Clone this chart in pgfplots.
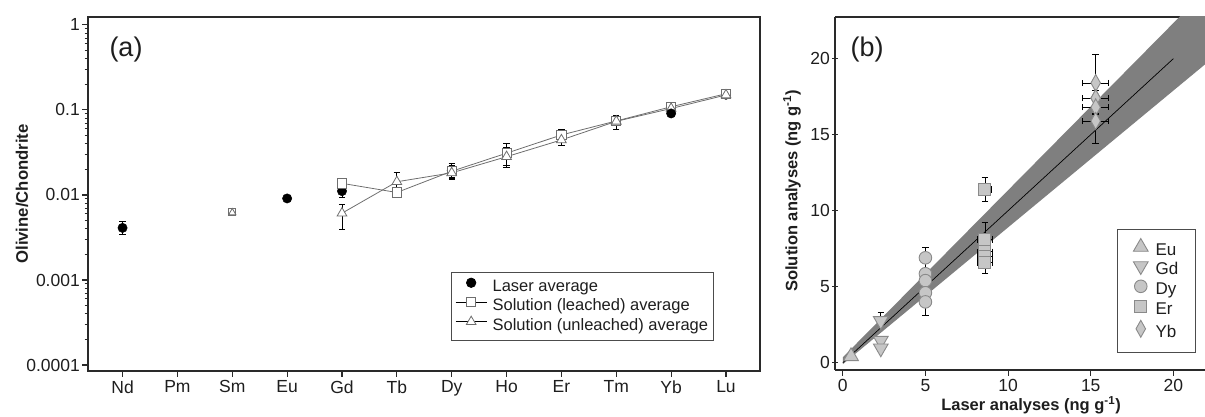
\documentclass[border=0pt]{standalone}
\usepackage{fontspec}
\setmainfont{Liberation Sans}
\usepackage{pgfplots}
\pgfplotsset{compat=1.18}
\definecolor{mk}{HTML}{C6C6C6}
\definecolor{mkd}{HTML}{8A8A8A}
\definecolor{band}{HTML}{7F7F7F}
\definecolor{frame}{HTML}{2A2A2A}
\definecolor{ln}{HTML}{6E6E6E}
\definecolor{txt}{HTML}{1E1E1E}
\pgfplotsset{
  limgline/.style={legend image code/.code={\draw[##1, black] (0pt,4pt) -- (31pt,4pt); \draw[##1] plot coordinates {(15.5pt,4pt)};}},
  limgmark/.style={legend image code/.code={\draw[##1] plot coordinates {(15.5pt,4pt)};}},
  limgmarkb/.style={legend image code/.code={\draw[##1] plot coordinates {(0pt,4.5pt)};}},
  common/.style={
    scale only axis,
    tick align=outside,
    major tick length=6pt, minor tick length=3.5pt,
    axis line style={frame, line width=1.4pt},
    tick style={frame, line width=1.1pt},
    xtick pos=left, ytick pos=left,
    ticklabel style={font=\fontsize{17.5}{20}\selectfont, text=txt},
    /pgf/number format/assume math mode=true,
    error bars/error bar style={black, solid, line width=0.8pt},
    error bars/error mark options={rotate=90, mark size=3.2pt, line width=0.8pt, black, solid},
  }
}
\begin{document}
\begin{tikzpicture}
\useasboundingbox (0pt,0pt) rectangle (1205pt,417pt);
% ---------------- panel (a) ----------------
\begin{axis}[common,
  at={(88pt,46pt)}, anchor=south west, width=672pt, height=354pt,
  xmin=-0.63, xmax=11.62, ymode=log, ymin=8.5e-5, ymax=1.24,
  xtick={0,...,11}, xticklabels={Nd,Pm,Sm,Eu,Gd,Tb,Dy,Ho,Er,Tm,Yb,Lu},
  ytick={0.0001,0.001,0.01,0.1,1}, yticklabels={0.0001,0.001,0.01,0.1,1},
  minor ytick={2e-4,3e-4,4e-4,5e-4,6e-4,7e-4,8e-4,9e-4,2e-3,3e-3,4e-3,5e-3,6e-3,7e-3,8e-3,9e-3,0.02,0.03,0.04,0.05,0.06,0.07,0.08,0.09,0.2,0.3,0.4,0.5,0.6,0.7,0.8,0.9},
  yticklabel style={inner sep=2pt},
  legend style={at={(0.540,0.085)}, anchor=south west, draw=black!70, line width=0.8pt,
     font=\fontsize{16.5}{19}\selectfont, text=txt, inner xsep=4pt, inner ysep=5pt,
     nodes={inner sep=1.5pt, text height=12.5pt, text depth=4pt}, column sep=4pt, row sep=0pt},
  legend cell align=left,
]
\addplot[only marks, mark=*, mark size=4.7pt, black, limgmark,
  error bars/.cd, y dir=both, y explicit]
  coordinates {(0,0.0041) += (0,0.0008) -= (0,0.0007)
               (4,0.0111) += (0,0.0019) -= (0,0.0018)
               (6,0.0195) +- (0,0.004)
               (11,0.151) +- (0,0.01)};
\addlegendentry{Laser average}
\addplot[ln, line width=0.8pt, mark=square*, mark size=4.6pt, mark options={fill=white, draw=ln, line width=0.8pt}, limgline,
  error bars/.cd, y dir=both, y explicit]
  coordinates {(4,0.0137) +- (0,0.0006) (5,0.0107) +- (0,0.0008) (6,0.0190) +- (0,0.003)
    (7,0.031) += (0,0.0096) -= (0,0.009) (8,0.0508) += (0,0.009) -= (0,0.006)
    (9,0.0742) += (0,0.013) -= (0,0.008) (10,0.109) += (0,0.008) -= (0,0.006)
    (11,0.155) += (0,0.015) -= (0,0.012)};
\addlegendentry{Solution (leached) average}
\addplot[ln, line width=0.8pt, mark=triangle*, mark size=5.6pt, mark options={fill=white, draw=ln, line width=0.8pt}, limgline,
  error bars/.cd, y dir=both, y explicit]
  coordinates {(4,0.0061) += (0,0.0017) -= (0,0.0022) (5,0.0143) += (0,0.004) -= (0,0.002)
    (6,0.0182) +- (0,0.003) (7,0.0282) += (0,0.008) -= (0,0.007)
    (8,0.0444) += (0,0.005) -= (0,0.006) (9,0.0735) += (0,0.008) -= (0,0.015)
    (10,0.104) += (0,0.008) -= (0,0.006) (11,0.150) += (0,0.012) -= (0,0.014)};
\addlegendentry{Solution (unleached) average}
\addplot[forget plot, only marks, mark=*, mark size=4.7pt, black] coordinates {(3,0.0091) (10,0.091)};
\addplot[forget plot, only marks, mark=square*, mark size=3.6pt, mark options={fill=white, draw=ln, line width=0.8pt},
  error bars/.cd, y dir=both, y explicit] coordinates {(2,0.0063) +- (0,0.0005)};
\addplot[forget plot, only marks, mark=triangle*, mark size=4.2pt, mark options={fill=white, draw=ln, line width=0.8pt}]
  coordinates {(2,0.0062)};
\end{axis}
% ---------------- panel (b) ----------------
\begin{axis}[common,
  at={(835pt,47pt)}, anchor=south west, width=379.7pt, height=353pt,
  xmin=-0.47, xmax=22.5, ymin=-0.48, ymax=22.74,
  axis x line=box, axis y line=left,
  every outer x axis line/.append style={-}, every outer y axis line/.append style={-},
  xtick={0,5,10,15,20}, ytick={0,5,10,15,20},
  yticklabel style={inner sep=2pt},
  legend style={at={(0.7427,0.049)}, anchor=south west, draw=black!70, line width=0.8pt,
     font=\fontsize{17}{19}\selectfont, text=txt, inner xsep=16pt, inner ysep=9.5pt,
     nodes={inner sep=1.5pt, text height=12pt, text depth=4pt}, column sep=6pt, row sep=0pt},
  legend cell align=left,
]
\addplot[forget plot, fill=band, draw=none] coordinates {(0,0.35) (22.5,25.09) (22.5,20.15) (0,-0.1)} -- cycle;
\addplot[forget plot, black, line width=0.7pt] coordinates {(0,0) (20,20)};
\addplot[only marks, limgmarkb, mark=triangle*, mark size=8.5pt, mark options={fill=mk, draw=mkd, line width=0.9pt}]
  coordinates {(0.5,0.42)};
\addlegendentry{Eu}
\addplot[only marks, limgmarkb, mark=triangle*, mark size=8.5pt, mark options={fill=mk, draw=mkd, line width=0.9pt, rotate=180}]
  coordinates {(2.3,1.45) (2.3,0.95)};
\addlegendentry{Gd}
\addplot[only marks, limgmarkb, mark=*, mark size=6.3pt, mark options={fill=mk, draw=mkd, line width=0.9pt}]
  coordinates {(5,5.85) (5,5.4) (5,4.6)};
\addlegendentry{Dy}
\addplot[only marks, limgmarkb, mark=square*, mark size=6pt, mark options={fill=mk, draw=mkd, line width=0.9pt}]
  coordinates {(8.6,7.7)};
\addlegendentry{Er}
\addplot[only marks, limgmarkb, mark=diamond*, mark size=8.5pt, mark options={fill=mk, draw=mkd, line width=0.9pt, xscale=0.75}]
  coordinates {(15.3,17.4)};
\addlegendentry{Yb}
\addplot[forget plot, only marks, mark=triangle*, mark size=8.5pt, mark options={fill=mk, draw=mkd, line width=0.9pt, rotate=180},
  error bars/.cd, y dir=plus, y explicit]
  coordinates {(2.3,2.75) +- (0,0.55)};
\addplot[forget plot, only marks, mark=*, mark size=6.3pt, mark options={fill=mk, draw=mkd, line width=0.9pt},
  error bars/.cd, y dir=both, y explicit]
  coordinates {(5,6.9) +- (0,0.7) (5,4.0) += (0,0.3) -= (0,0.9)};
\addplot[forget plot, only marks, mark=square*, mark size=6pt, mark options={fill=mk, draw=mkd, line width=0.9pt},
  error bars/.cd, y dir=both, y explicit, x dir=both, x explicit]
  coordinates {(8.6,11.4) +- (0.42,0.8) (8.6,8.1) += (0.45,1.1) -= (0.45,0.3)
               (8.6,7.3) +- (0.45,0.4) (8.6,7.0) +- (0.45,0.4) (8.6,6.6) += (0.45,0.3) -= (0.45,0.7)};
\addplot[forget plot, only marks, mark=diamond*, mark size=8.5pt, mark options={fill=mk, draw=mkd, line width=0.9pt, xscale=0.75},
  error bars/.cd, y dir=both, y explicit, x dir=both, x explicit]
  coordinates {(15.3,18.4) += (0.78,1.9) -= (0.78,0.5) (15.3,17.4) +- (0.78,0.5)
               (15.3,16.8) +- (0.78,0.5) (15.3,15.9) += (0.78,0.5) -= (0.78,1.5)};
\end{axis}
% ---------------- labels ----------------
\node[font=\fontsize{27}{30}\selectfont, text=txt] at (126pt,367pt) {(a)};
\node[font=\fontsize{27}{30}\selectfont, text=txt] at (867pt,367pt) {(b)};
\node[rotate=90, font=\bfseries\fontsize{16.7}{19}\selectfont, text=txt] at (22pt,223pt) {Olivine/Chondrite};
\node[rotate=90, font=\bfseries\fontsize{16.5}{19}\selectfont, text=txt] at (792pt,226pt) {Solution analyses (ng g\textsuperscript{-1})};
\node[anchor=base, font=\bfseries\fontsize{16.5}{19}\selectfont, text=txt] at (1031pt,6pt) {Laser analyses (ng g\textsuperscript{-1})};
\end{tikzpicture}
\end{document}
